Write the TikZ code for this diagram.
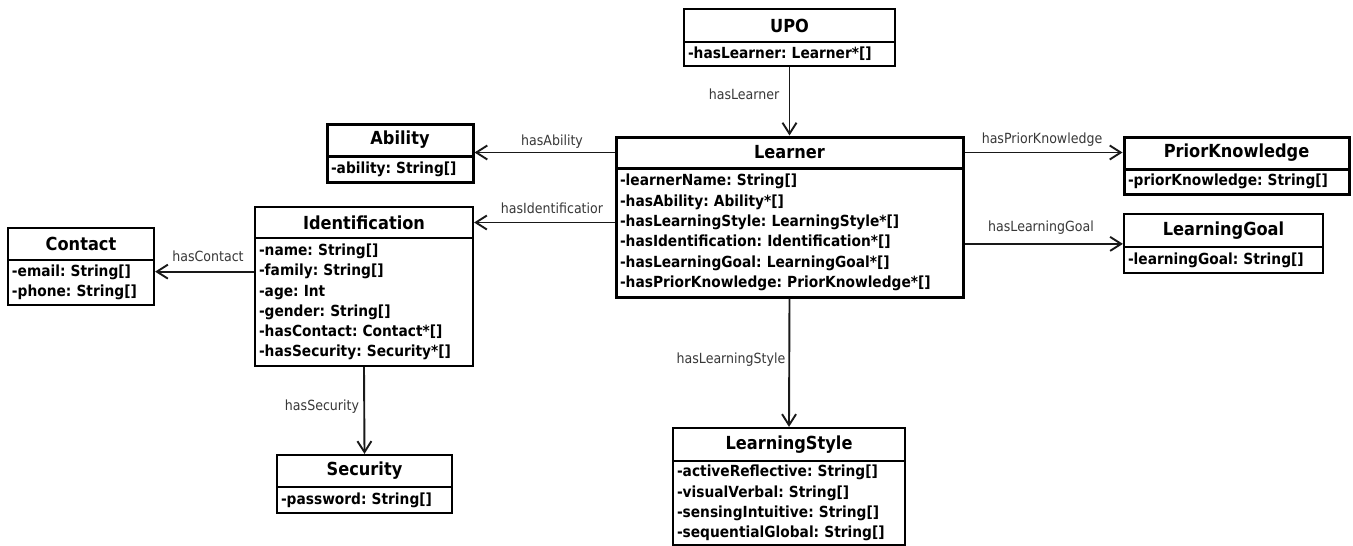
\documentclass[tikz,border=0pt]{standalone}
\usepackage{fontspec}
\setmainfont[FakeStretch=0.9]{DejaVu Sans}
\usetikzlibrary{arrows.meta,calc}
\frenchspacing
\newcommand{\titlefont}{\bfseries\fontsize{18}{22}\selectfont}
\newcommand{\attrfont}{\bfseries\fontsize{15.3}{20.3}\selectfont}
\newcommand{\lblfont}{\fontsize{14}{16}\selectfont}
% #1 name, #2 x1, #3 y1, #4 x2, #5 ydiv, #6 y2, #7 title, #8 attributes, #9 border width
\newcommand{\umlbox}[9]{%
  \pgfmathsetmacro\ubW{#4-#2}%
  \pgfmathsetmacro\ubX{(#2+#4)/2}%
  \pgfmathsetmacro\ubHa{#5-#3}%
  \pgfmathsetmacro\ubYa{(#3+#5)/2}%
  \pgfmathsetmacro\ubHb{#6-#5}%
  \pgfmathsetmacro\ubYb{(#5+#6)/2}%
  \pgfmathsetmacro\ubT{#4-#2-8}%
  \node[hdrbox, line width=#9, minimum width=\ubW pt, minimum height=\ubHa pt] (#1) at (\ubX,\ubYa) {#7};
  \node[attrbox, line width=#9, minimum width=\ubW pt, minimum height=\ubHb pt, text width=\ubT pt] (#1B) at (\ubX,\ubYb) {#8};
}
\tikzset{
  hdrbox/.style={draw=black, fill=white, font=\titlefont, inner sep=0pt, align=center},
  attrbox/.style={draw=black, fill=white, font=\attrfont, inner xsep=4pt, inner ysep=0pt, align=left},
  conn/.style={draw=black!90, line width=1.9pt, -{Straight Barb[length=11pt,width=14pt]}},
  lbl/.style={font=\lblfont, text=black!78, inner sep=0pt}
}
\begin{document}
\begin{tikzpicture}[x=1pt,y=-1pt]
\useasboundingbox[fill=white] (0,0) rectangle (1353,546);

\umlbox{upo}{684}{9}{895}{42}{66}{UPO}{-hasLearner: Learner*[]}{2.2pt}
\umlbox{learner}{616}{137}{963}{168}{297}{Learner}{-learnerName: String[]\\-hasAbility: Ability*[]\\-hasLearningStyle: LearningStyle*[]\\-hasIdentification: Identification*[]\\-hasLearningGoal: LearningGoal*[]\\-hasPriorKnowledge: PriorKnowledge*[]}{3pt}
\umlbox{ability}{327}{124}{473}{156}{182}{Ability}{-ability: String[]}{3pt}
\umlbox{ident}{255}{207}{473}{238}{366}{Identification}{-name: String[]\\-family: String[]\\-age: Int\\-gender: String[]\\-hasContact: Contact*[]\\-hasSecurity: Security*[]}{2.2pt}
\umlbox{contact}{8}{228}{154}{260}{305}{Contact}{-email: String[]\\-phone: String[]}{2.2pt}
\umlbox{security}{277}{455}{452}{487}{513}{Security}{-password: String[]}{2.2pt}
\umlbox{prior}{1124}{137}{1349}{169}{194}{PriorKnowledge}{-priorKnowledge: String[]}{3pt}
\umlbox{goal}{1124}{214}{1323}{247}{273}{LearningGoal}{-learningGoal: String[]}{2.2pt}
\umlbox{style}{673}{428}{905}{461}{545}{LearningStyle}{-activeReflective: String[]\\-visualVerbal: String[]\\-sensingIntuitive: String[]\\-sequentialGlobal: String[]}{2.2pt}

\coordinate (cIn) at ($(contactB.north east)!0.27!(contactB.south east)$);
\coordinate (gIn) at ($(goal.north west)!0.88!(goal.south west)$);

\draw[conn] (upoB.south) -- (learner.north);
\draw[conn] (learner.west) -- (learner.west -| ability.east);
\draw[conn] (learnerB.west |- ident.east) -- (ident.east);
\draw[conn] (identB.west |- cIn) -- (cIn);
\draw[conn] (identB.south) -- (security.north);
\draw[conn] (learner.east) -- (learner.east -| prior.west);
\draw[conn] (learnerB.east |- gIn) -- (gIn);
\draw[conn] (learnerB.south) -- (style.north);

\node[lbl] (lLearner) at (744,94) {hasLearner};
\node[lbl] (lAbility) at (552,142) {hasAbility};
\node[lbl] (lIdent) at (552,208) {hasIdentificatior};
\node[lbl] (lContact) at (208,256) {hasContact};
\node[lbl] (lSecurity) at (322,407) {hasSecurity};
\node[lbl] (lPrior) at (1042,140) {hasPriorKnowledge};
\node[lbl] (lGoal) at (1041,228) {hasLearningGoal};
\node[lbl] (lStyle) at (731,360) {hasLearningStyle};
\end{tikzpicture}
\end{document}
